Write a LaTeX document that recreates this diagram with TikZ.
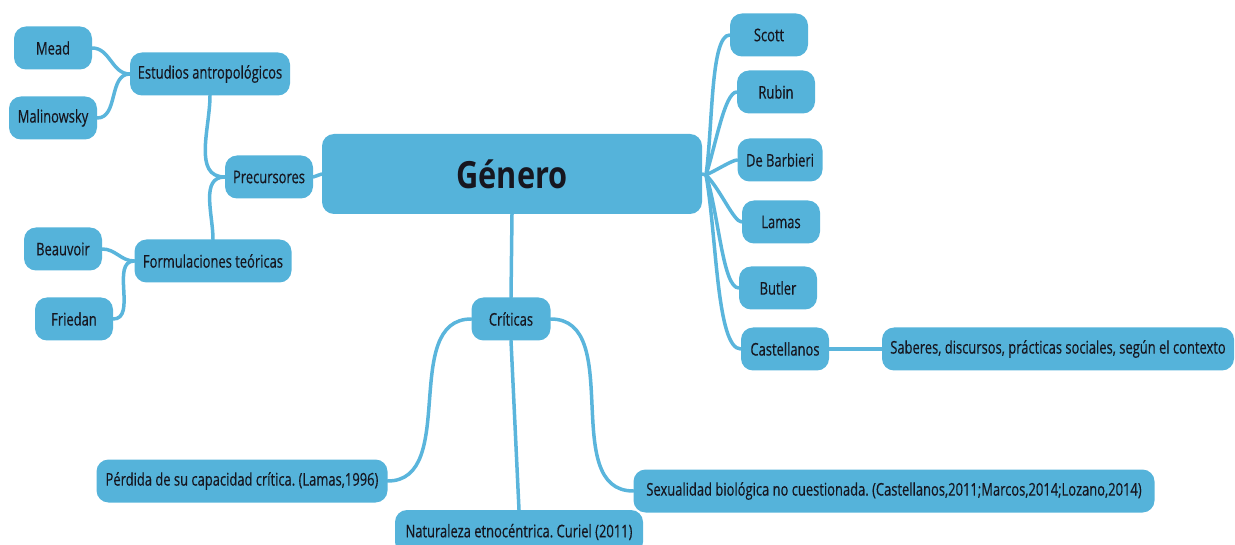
\documentclass[tikz,border=0pt]{standalone}
\usepackage{fontspec}
\setmainfont{Open Sans}[FakeStretch=0.74,FakeBold=0.35]
\newfontfamily\bigfont{Open Sans}[FakeStretch=0.82]
\usetikzlibrary{backgrounds}
\definecolor{nodeblue}{HTML}{55B3DA}
\definecolor{edgeblue}{HTML}{5AB5DC}
\definecolor{txt}{HTML}{16161F}
\tikzset{
  box/.style={fill=nodeblue, rounded corners=12pt, text=txt, minimum height=43pt,
    inner sep=0pt, font=\fontsize{17.5}{20}\selectfont},
  edge/.style={draw=edgeblue, line width=3.5pt, line cap=round},
  fan/.style={out looseness=0.9, in looseness=0.35},
}
\frenchspacing
\begin{document}
\begin{tikzpicture}[x=1pt,y=-1pt]
\useasboundingbox (0,0) rectangle (1235,545);
% nodes
\node[box, minimum width=380pt, minimum height=80pt, font=\bigfont\bfseries\fontsize{37.5}{40}\selectfont] (gen) at (512,174) {Género};
\node[box, minimum width=88pt] (prec) at (269,177) {Precursores};
\node[box, minimum width=160pt] (est) at (210,74) {Estudios antropológicos};
\node[box, minimum width=78pt] (mead) at (53,48) {Mead};
\node[box, minimum width=88pt] (mal) at (53,118) {Malinowsky};
\node[box, minimum width=157pt] (form) at (213,261) {Formulaciones teóricas};
\node[box, minimum width=78pt] (beau) at (63,249) {Beauvoir};
\node[box, minimum width=78pt] (fried) at (74,319) {Friedan};
\node[box, minimum width=78pt] (scott) at (769,35) {Scott};
\node[box, minimum width=78pt] (rubin) at (776,92) {Rubin};
\node[box, minimum width=85pt] (barb) at (780,160) {De Barbieri};
\node[box, minimum width=78pt] (lamas) at (781,222) {Lamas};
\node[box, minimum width=78pt] (butler) at (778,288) {Butler};
\node[box, minimum width=88pt] (cast) at (785,349) {Castellanos};
\node[box, minimum width=352pt] (sab) at (1058,349) {Saberes, discursos, prácticas sociales, según el contexto};
\node[box, minimum width=79pt] (crit) at (511,319) {Críticas};
\node[box, minimum width=291pt] (perd) at (242,481) {Pérdida de su capacidad crítica. (Lamas,1996)};
\node[box, minimum width=248pt, minimum height=44pt] (nat) at (519,532) {Naturaleza etnocéntrica. Curiel (2011)};
\node[box, minimum width=521pt] (sex) at (894,491) {Sexualidad biológica no cuestionada. (Castellanos,2011;Marcos,2014;Lozano,2014)};
\coordinate (hub) at (706,175);
% edges
\begin{pgfonlayer}{background}
\draw[edge] (est.west) to[out=180,in=0] (mead.east);
\draw[edge] (est.west) to[out=180,in=0] (mal.east);
\draw[edge] (est.south) to[out=-90,in=180] (prec.west);
\draw[edge] (form.north) to[out=90,in=180] (prec.west);
\draw[edge] (form.west) to[out=180,in=0] (beau.east);
\draw[edge] (form.west) to[out=180,in=0] (fried.east);
\draw[edge] (prec.east) -- (gen.west);
\draw[edge] (gen.east) -- (hub);
\draw[edge] (hub) to[out=82,in=180,fan] (scott.west);
\draw[edge] (hub) to[out=72,in=180,fan] (rubin.west);
\draw[edge] (hub) to[out=25,in=180,fan] (barb.west);
\draw[edge] (hub) to[out=-45,in=180,fan] (lamas.west);
\draw[edge] (hub) to[out=-72,in=180,fan] (butler.west);
\draw[edge] (hub) to[out=-80,in=180,fan] (cast.west);
\draw[edge] (cast.east) -- (sab.west);
\draw[edge] (gen.south) -- (crit.north);
\draw[edge] (crit.west) to[out=180,in=0] (perd.east);
\draw[edge] (crit.south) -- (nat.north);
\draw[edge] (crit.east) to[out=0,in=180] (sex.west);
\end{pgfonlayer}
\end{tikzpicture}
\end{document}
